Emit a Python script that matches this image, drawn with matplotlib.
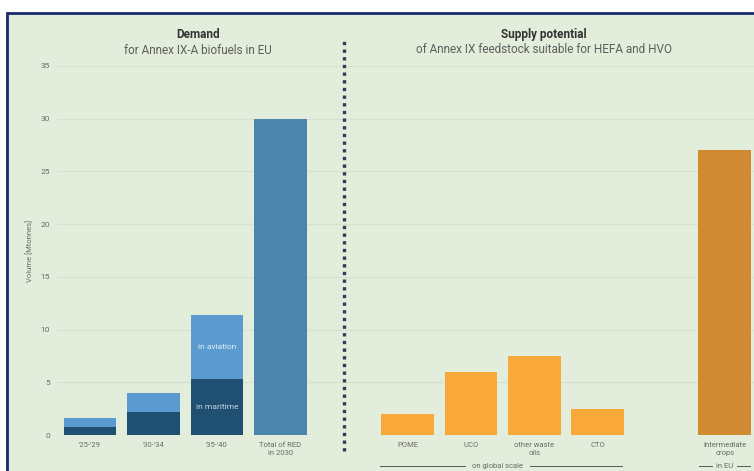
import matplotlib
matplotlib.use("Agg")
import matplotlib.pyplot as plt
import matplotlib.transforms as mtransforms
from matplotlib.patches import Rectangle

plt.rcParams['font.family'] = ['Roboto', 'DejaVu Sans']

# Demand for Annex IX-A biofuels in EU (Mtonnes)
demand_labels = ["'25-'29", "'30-'34", "'35-'40", "Total of RED\nin 2030"]
maritime = [0.8, 2.2, 5.3]
aviation = [0.8, 1.8, 6.1]
red_total = 30.0

# Supply potential of Annex IX feedstock (Mtonnes)
supply_labels = ["POME", "UCO", "other waste\noils", "CTO", "Intermediate\ncrops"]
supply_values = [2.0, 6.0, 7.5, 2.5, 27.0]

yticks = [0, 5, 10, 15, 20, 25, 30, 35]

BG = "#e3eddb"
GRID = "#d6e1cf"
C_AVI = "#5b9bcf"
C_MAR = "#1f4f71"
C_RED = "#4b84ad"
C_SUP = "#f9a83a"
C_CROP = "#d08a31"
TXT = "#6b6b6b"

fig = plt.figure(figsize=(7.54, 4.71), dpi=100, facecolor="white")

# framed panel
W, H = 754, 471
frame = Rectangle((7 / W, -0.05), 1.1, 1 - 13 / H + 0.05,
                  transform=fig.transFigure, facecolor=BG,
                  edgecolor="#1b2a6b", linewidth=2, zorder=-10)
fig.add_artist(frame)

ax = fig.add_axes([57 / W, 1 - 435 / H, 1 - 57 / W, (435 - 66) / H])
ax.set_facecolor("none")
ax.set_zorder(1)

bw = 0.83
dx = [0, 1, 2]
ax.bar(dx, maritime, width=bw, color=C_MAR, zorder=3)
ax.bar(dx, aviation, width=bw, bottom=maritime, color=C_AVI, zorder=3)
ax.bar([3], [red_total], width=bw, color=C_RED, zorder=3)

sx = [5, 6, 7, 8, 10]
colors = [C_SUP] * 4 + [C_CROP]
ax.bar(sx, supply_values, width=bw, color=colors, zorder=3)

# segment labels on the '35-'40 bar
ax.text(2, maritime[2] + aviation[2] / 2, "in aviation", ha="center", va="center",
        fontsize=6, color="#e3eef8", zorder=4)
ax.text(2, maritime[2] / 2, "in maritime", ha="center", va="center",
        fontsize=6, color="#c5d6e4", zorder=4)

ax.set_xlim(-0.52, 10.46)
ax.set_ylim(0, 35)
ax.set_yticks(yticks)
ax.set_yticklabels([str(v) for v in yticks], fontsize=6, color=TXT)
ax.set_xticks([0, 1, 2, 3] + sx)
ax.set_xticklabels(demand_labels + supply_labels, fontsize=5.5, color=TXT,
                   linespacing=1.4)
ax.tick_params(length=0, pad=5)
ax.tick_params(axis="y", pad=5)
ax.grid(axis="y", color=GRID, linewidth=0.9, zorder=0)
for s in ax.spines.values():
    s.set_visible(False)
ax.set_ylabel("Volume [Mtonnes]", fontsize=5.5, color=TXT, labelpad=5)

# dotted divider between demand and supply
ax.plot([4, 4], [-1.5, 37.7], linestyle=(0, (1, 1.3)), linewidth=2.4,
        color="#2b3f55", clip_on=False, zorder=5)

# panel titles
ax.text(1.7, 37.95, "Demand", ha="center", va="center", fontsize=8.5,
        fontweight="bold", color="#333333")
ax.text(1.7, 36.5, "for Annex IX-A biofuels in EU", ha="center", va="center",
        fontsize=8.5, color="#5e5e5e")
ax.text(7.15, 38.0, "Supply potential", ha="center", va="center", fontsize=8.5,
        fontweight="bold", color="#333333")
ax.text(7.15, 36.6, "of Annex IX feedstock suitable for HEFA and HVO",
        ha="center", va="center", fontsize=8.5, color="#5e5e5e")

# scope brackets under the supply bars
tr = mtransforms.blended_transform_factory(ax.transData, ax.transAxes)
yb = -0.084
ax.plot([4.57, 5.9], [yb, yb], color="#555555", lw=0.7, transform=tr, clip_on=False)
ax.plot([6.93, 8.38], [yb, yb], color="#555555", lw=0.7, transform=tr, clip_on=False)
ax.text(6.42, yb, "on global scale", ha="center", va="center", fontsize=5.5,
        color=TXT, transform=tr)
ax.plot([9.6, 9.8], [yb, yb], color="#555555", lw=0.7, transform=tr, clip_on=False)
ax.plot([10.2, 10.4], [yb, yb], color="#555555", lw=0.7, transform=tr, clip_on=False)
ax.text(10.0, yb, "in EU", ha="center", va="center", fontsize=5.5,
        color=TXT, transform=tr)

fig.savefig("out.png", dpi=100, facecolor=fig.get_facecolor())
